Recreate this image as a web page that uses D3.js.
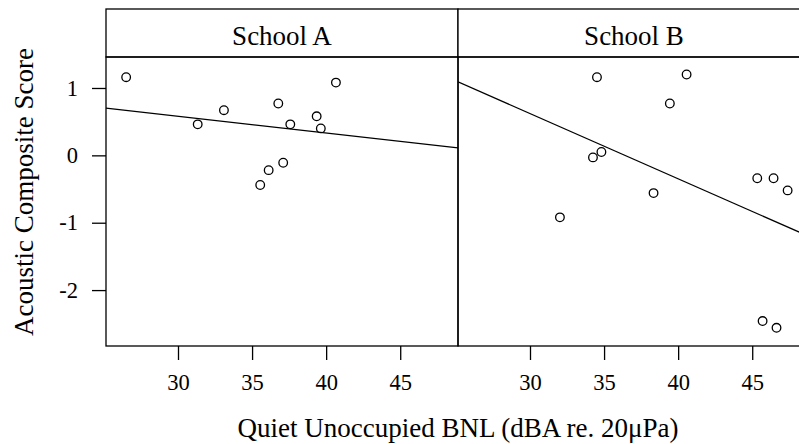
<!DOCTYPE html>
<html><head><meta charset="utf-8">
<script src="https://cdn.jsdelivr.net/npm/d3@7"></script>
<style>body{margin:0;background:#fff}svg{display:block}text{font-family:"Liberation Serif","Times New Roman",serif;fill:#000}</style>
</head><body><svg id="c" width="799" height="444"></svg>
<script>
const panels = ["School A", "School B"];
const xA = [26.5, 31.33, 33.1, 36.77, 37.58, 39.36, 39.64, 40.66, 37.1, 36.12, 35.55];
const yA = [1.16, 0.46, 0.67, 0.77, 0.46, 0.58, 0.40, 1.08, -0.11, -0.22, -0.44];
const xB = [34.52, 40.57, 39.44, 34.25, 34.82, 38.34, 45.34, 46.44, 47.39, 32.02, 45.7, 46.64];
const yB = [1.16, 1.20, 0.77, -0.03, 0.05, -0.56, -0.34, -0.34, -0.52, -0.92, -2.46, -2.56];
const intercepts = [1.324, 3.524];
const slopes = [-0.0248, -0.0968];
const xTicks = [30, 35, 40, 45];
const yTicks = [1, 0, -1, -2];
const xTitle = "Quiet Unoccupied BNL (dBA re. 20\u03bcPa)";
const yTitle = "Acoustic Composite Score";

const xDomain = [25.14, 48.9], yDomain = [-2.83, 1.46];
const panelW = 352, plotLeft = 106, stripTop = 9, plotTop = 57, plotBottom = 346;
const svg = d3.select("#c");
const y = d3.scaleLinear().domain(yDomain).range([plotBottom, plotTop]);
const data = [[xA, yA], [xB, yB]];

panels.forEach((name, i) => {
  const x0 = plotLeft + i * panelW;
  const x = d3.scaleLinear().domain(xDomain).range([x0, x0 + panelW]);
  const clipId = "clip" + i;
  svg.append("clipPath").attr("id", clipId).append("rect")
    .attr("x", x0).attr("y", plotTop).attr("width", panelW).attr("height", plotBottom - plotTop);
  const g = svg.append("g").attr("clip-path", `url(#${clipId})`);
  const pts = data[i][0].map((v, k) => [v, data[i][1][k]]);
  g.selectAll("circle").data(pts).join("circle")
    .attr("cx", d => x(d[0])).attr("cy", d => y(d[1])).attr("r", 4.3)
    .attr("fill", "none").attr("stroke", "#000").attr("stroke-width", 1.3);
  const line = d3.line().x(d => x(d)).y(d => y(intercepts[i] + slopes[i] * d));
  g.append("path").datum(xDomain).attr("d", line)
    .attr("fill", "none").attr("stroke", "#000").attr("stroke-width", 1.3);
  svg.append("rect").attr("x", x0).attr("y", stripTop).attr("width", panelW).attr("height", plotTop - stripTop)
    .attr("fill", "#fff").attr("stroke", "#000").attr("stroke-width", 1.3);
  svg.append("text").attr("x", x0 + panelW / 2).attr("y", 44.5).attr("text-anchor", "middle")
    .attr("font-size", 27).text(name);
  svg.append("rect").attr("x", x0).attr("y", plotTop).attr("width", panelW).attr("height", plotBottom - plotTop)
    .attr("fill", "none").attr("stroke", "#000").attr("stroke-width", 1.3);
  const ax = svg.append("g").attr("transform", `translate(0,${plotBottom})`)
    .call(d3.axisBottom(x).tickValues(xTicks).tickSize(14).tickPadding(14).tickFormat(d3.format("d")));
  ax.select(".domain").remove();
  ax.selectAll("line").attr("stroke-width", 1.3);
  ax.selectAll("text").attr("font-size", 22.5).attr("font-family", "Liberation Serif");
});

const ay = svg.append("g").attr("transform", `translate(${plotLeft},0)`)
  .call(d3.axisLeft(y).tickValues(yTicks).tickSize(14).tickPadding(14).tickFormat(d => d < 0 ? "-" + Math.abs(d) : d));
ay.select(".domain").remove();
ay.selectAll("line").attr("stroke-width", 1.3);
ay.selectAll("text").attr("font-size", 22.5).attr("font-family", "Liberation Serif");

svg.append("text").attr("x", plotLeft + panelW).attr("y", 437).attr("text-anchor", "middle")
  .attr("font-size", 27).text(xTitle);
svg.append("text").attr("transform", "translate(33,192) rotate(-90)").attr("text-anchor", "middle")
  .attr("font-size", 27).text(yTitle);
</script></body></html>
